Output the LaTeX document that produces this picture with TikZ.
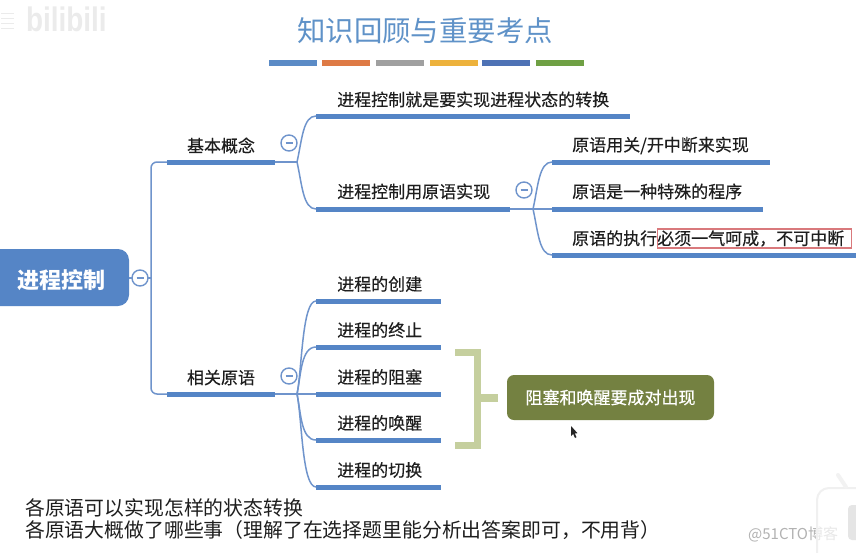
\documentclass[tikz,border=0pt]{standalone}
\usepackage{fontspec}
\setmainfont{Noto Sans CJK SC}
\newfontfamily\latinwm{Liberation Sans}
\newfontfamily\labfont[FakeBold=0.25]{Noto Sans CJK SC}
\newfontfamily\greenfont[FakeBold=0.5]{Noto Sans CJK SC}
\definecolor{bluec}{HTML}{5585C6}
\definecolor{linec}{HTML}{6F94CC}
\definecolor{titlec}{HTML}{5F92C8}
\definecolor{olivec}{HTML}{748141}
\definecolor{brackc}{HTML}{C5CF9E}
\definecolor{redc}{HTML}{D9797C}
\definecolor{inkc}{HTML}{1E1E1E}
\tikzset{
  x=1pt,y=-1pt,
  lab/.style={inner sep=0pt,anchor=west,font=\labfont\fontsize{17}{17}\selectfont,text=inkc},
  labc/.style={inner sep=0pt,font=\labfont\fontsize{17}{17}\selectfont,text=inkc},
  bar/.style={line width=5pt,draw=bluec},
  conn/.style={line width=1.5pt,draw=linec},
  tog/.style={circle,draw=linec,line width=1.4pt,fill=white,minimum size=16pt,inner sep=0pt,
     path picture={\draw[linec,line width=1.2pt] ([xshift=-3.5pt]path picture bounding box.center)--([xshift=3.5pt]path picture bounding box.center);}},
  swatch/.style={minimum width=48pt,minimum height=6pt,inner sep=0pt,anchor=west},
  note/.style={inner sep=0pt,anchor=west,font=\fontsize{19.85}{19.85}\selectfont,text=inkc},
}
\newcommand{\branch}[4]{%
  \coordinate (#1l) at (#2,#4);\coordinate (#1r) at (#3,#4);
  \draw[bar] (#1l)--(#1r);
}
\begin{document}
\begin{tikzpicture}
\useasboundingbox (0,0) rectangle (856,552);
\fill[white] (0,0) rectangle (856,552);

% faint watermark
\node[inner sep=0pt,anchor=west,text=black!8,xscale=0.82,font=\latinwm\bfseries\fontsize{34}{34}\selectfont] (wm) at (26,19) {bilibili};
\foreach \y in {13,18,23,28}{\draw[black!8,line width=1pt] (1,\y)--(14,\y);}

% title
\node[inner sep=0pt,text=titlec,font=\fontsize{28.4}{28.4}\selectfont] (title) at (425,31) {知识回顾与重要考点};
\foreach \n/\x/\c in {a/269/5B8BC6,b/322/DE7A45,c/376/A0A0A0,d/430/EDB23C,e/482/4E72B5,f/536/6FA044}{
  \definecolor{tmpc}{HTML}{\c}
  \node[swatch,fill=tmpc] (sw\n) at (\x,63) {};
}

% root
\fill[bluec,rounded corners=11pt] (-14,249) rectangle (129,306);
\node[inner sep=0pt,text=white,font=\bfseries\fontsize{22}{22}\selectfont] (root) at (61,280) {进程控制};
\coordinate (rootE) at (129,278);
\coordinate (trunk) at (151,278);

% level 1
\branch{ba}{167}{275}{162}
\branch{xg}{167}{275}{394}
\node[labc] (tba) at (221,145.5) {基本概念};
\node[labc] (txg) at (221,377.5) {相关原语};

\draw[conn] (rootE)--(trunk);
\draw[conn,rounded corners=6pt] (bal)-|(trunk)|-(xgl);

% level 2 upper
\branch{u1}{316}{630}{116}
\branch{u2}{316}{510}{209}
\node[lab] (tu1) at (337,99.5) {进程控制就是要实现进程状态的转换};
\node[lab] (tu2) at (337,191.5) {进程控制用原语实现};
\coordinate (fu) at (297,162);
\draw[conn] (bar)--(fu);
\draw[conn] (fu) .. controls (302,140) and (303,116) .. (u1l);
\draw[conn] (fu) .. controls (302,184) and (303,209) .. (u2l);

% level 3
\branch{p1}{552}{770}{162}
\branch{p2}{552}{763}{209}
\branch{p3}{552}{856}{255}
\node[lab] (tp1) at (572,145.5) {原语用关/开中断来实现};
\node[lab] (tp2) at (572,191.5) {原语是一种特殊的程序};
\node[lab] (tp3) at (572,238.5) {原语的执行必须一气呵成，不可中断};
\coordinate (fp) at (533,209);
\draw[conn] (u2r)--(p2l);
\draw[conn] (fp) .. controls (538,187) and (539,162) .. (p1l);
\draw[conn] (fp) .. controls (538,231) and (539,255) .. (p3l);
\node[draw=redc,line width=1.3pt,inner sep=0pt,minimum width=194pt,minimum height=19pt,anchor=west] (hl) at (657,238.5) {};

% level 2 lower
\foreach \n/\y/\t in {1/301/创建,2/347/终止,3/394/阻塞,4/440/唤醒,5/487/切换}{
  \branch{q\n}{316}{441}{\y}
  \node[lab] (tq\n) at (337,\y-17) {进程的\t};
}
\coordinate (fq) at (297,394);
\draw[conn] (xgr)--(q3l);
\draw[conn] (fq) .. controls (302,370) and (302,301) .. (q1l);
\draw[conn] (fq) .. controls (301,375) and (301,347) .. (q2l);
\draw[conn] (fq) .. controls (301,413) and (301,440) .. (q4l);
\draw[conn] (fq) .. controls (302,418) and (302,487) .. (q5l);

% toggles
\node[tog] (c0) at (140,278) {};
\node[tog] (c1) at (289,143) {};
\node[tog] (c2) at (289,376) {};
\node[tog] (c3) at (524,190) {};

% bracket
\draw[brackc,line width=7pt] (455,352)--(477,352)--(477,445)--(455,445);
\coordinate (bm) at (477,398);
\coordinate (bs) at (498,398);
\draw[brackc,line width=8pt] (bm)--(bs);
\node[fill=olivec,rounded corners=7pt,minimum width=207pt,minimum height=45pt,inner sep=0pt,text=white,font=\greenfont\fontsize{17}{17}\selectfont] (note) at (610.5,397.5) {\raisebox{-1.5pt}{阻塞和唤醒要成对出现}};

% cursor
\fill[black!85] (571,426)--(571,436)--(573.2,434)--(575,438)--(576.5,437.2)--(574.8,433.4)--(577.5,433.2)--cycle;

% notes
\node[note] (n1) at (25,507.5) {各原语可以实现怎样的状态转换};
\node[note] (n2) at (25,530.5) {各原语大概做了哪些事（理解了在选择题里能分析出答案即可，不用背）};

% corner
\node[inner sep=0pt,anchor=west,text=black!30,font=\fontsize{15}{15}\selectfont] (wm2) at (748,534) {@51CTO博客};
\draw[black!6,line width=2pt,fill=white,fill opacity=.7,rounded corners=12pt] (817,488) rectangle (875,575);
\draw[black!5,line width=4pt,line cap=round] (846,487)--(838,475);
\fill[black!10,rounded corners=4pt] (848,505) rectangle (870,540);
\end{tikzpicture}
\end{document}
